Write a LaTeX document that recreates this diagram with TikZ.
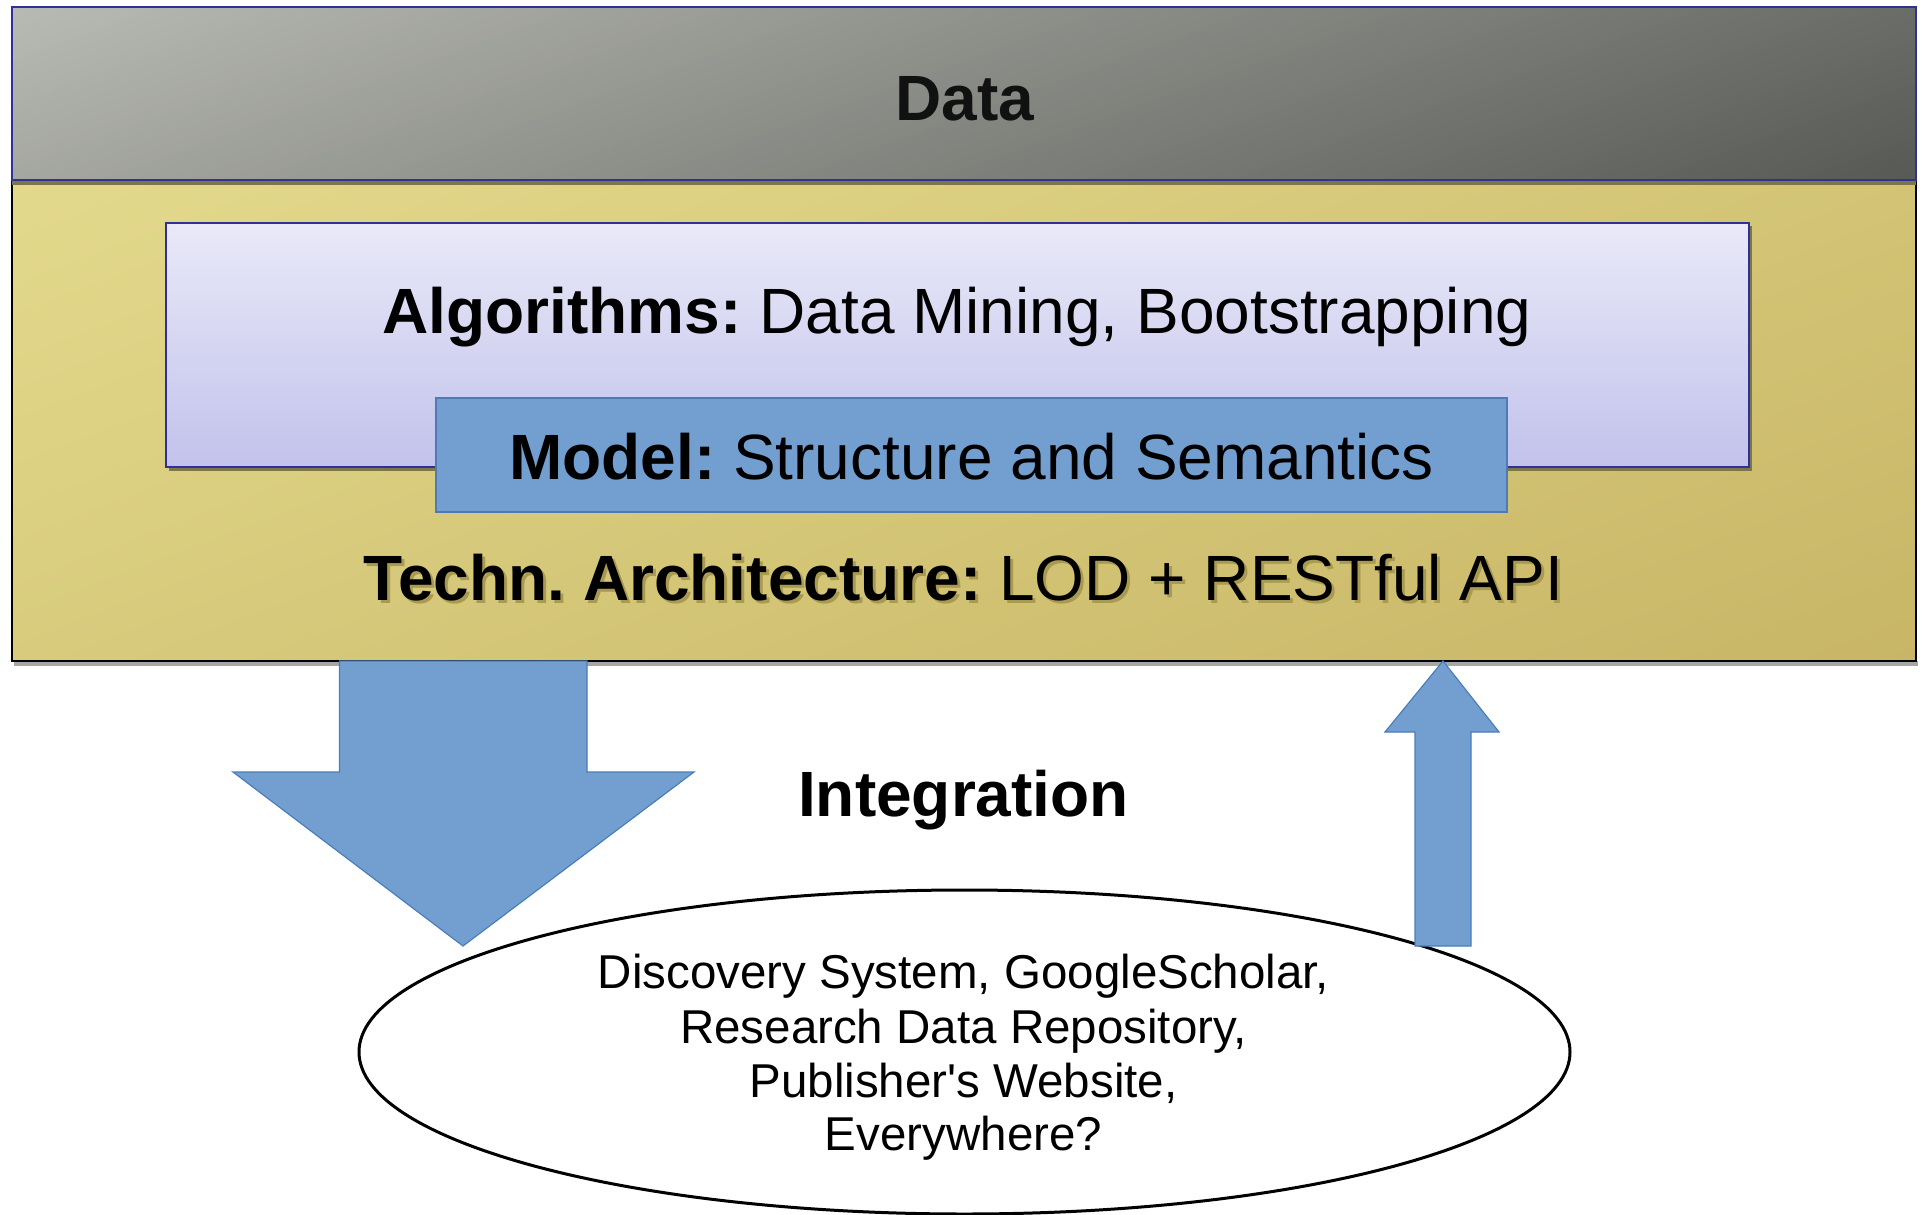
\documentclass[tikz,border=0pt]{standalone}
\usepackage{fontspec}
\setmainfont{Liberation Sans}
\usetikzlibrary{shapes.geometric}

\definecolor{datalight}{HTML}{B8BBB3}
\definecolor{datadark}{HTML}{575955}
\definecolor{yellowlight}{HTML}{E3D98C}
\definecolor{yellowdark}{HTML}{C8B666}
\definecolor{algotop}{HTML}{E9E9F8}
\definecolor{algobot}{HTML}{C2C2EC}
\definecolor{edgeblue}{HTML}{2F3196}
\definecolor{olivesh}{HTML}{7C7648}
\definecolor{modelblue}{HTML}{729FCF}
\definecolor{modeledge}{HTML}{4F7AB5}
\definecolor{arrowedge}{HTML}{4A7EBB}
\definecolor{textshadow}{HTML}{A99A52}
\definecolor{nearblack}{HTML}{111111}

\tikzset{
  bigfont/.style={font=\fontsize{64}{74}\selectfont},
  smallfont/.style={font=\fontsize{47.5}{54}\selectfont},
  boxnode/.style={rectangle, inner sep=0pt, outer sep=0pt},
  blockarrow/.style={fill=modelblue, draw=arrowedge, line width=1.2pt, line join=miter},
}

% Linear gradient over a box, built from strips.
% #1,#2 = upper-left corner, #3,#4 = lower-right corner,
% #5 = colour at upper left, #6 = colour at lower right,
% #7,#8 = horizontal and vertical weights of the gradient.
\newcommand\diaggrad[8]{%
  \begin{scope}
    \clip (#1,#2) rectangle (#3,#4);
    \foreach \i in {0,...,79}{%
      \pgfmathsetmacro\sa{ifthenelse(\i==0,-1,\i/80)}%
      \pgfmathsetmacro\sb{ifthenelse(\i==79,2,(\i+1.1)/80)}%
      \pgfmathsetmacro\pct{100-(\i+0.5)*1.25}%
      \pgfmathsetmacro\wd{#3-#1}%
      \pgfmathsetmacro\ht{#4-#2}%
      \pgfmathsetmacro\xat{#1+\wd*(\sa*(#7+#8)+#8*0.05)/#7}%
      \pgfmathsetmacro\xbt{#1+\wd*(\sb*(#7+#8)+#8*0.05)/#7}%
      \pgfmathsetmacro\xab{#1+\wd*(\sa*(#7+#8)-#8*1.05)/#7}%
      \pgfmathsetmacro\xbb{#1+\wd*(\sb*(#7+#8)-#8*1.05)/#7}%
      \pgfmathsetmacro\yt{#2-\ht*0.05}%
      \pgfmathsetmacro\yb{#2+\ht*1.05}%
      \fill[#5!\pct!#6] (\xat,\yt) -- (\xbt,\yt) -- (\xbb,\yb) -- (\xab,\yb) -- cycle;
    }
  \end{scope}}

\begin{document}
\frenchspacing
\begin{tikzpicture}[x=1pt,y=-1pt]
\useasboundingbox (0,0) rectangle (1922,1215);
\fill[white] (0,0) rectangle (1922,1215);

% gray shadow under the architecture layer
\fill[black!35] (14,661) rectangle (1918,666);

% architecture layer
\diaggrad{12}{180}{1916}{661}{yellowlight}{yellowdark}{0.6}{0.4}
\node[boxnode, draw=black, line width=2pt,
      minimum width=1904pt, minimum height=481pt] (arch) at (964,420.5) {};

% olive shadow under the data layer
\fill[olivesh] (12,180) rectangle (1916,185);

% data layer
\diaggrad{12}{7}{1916}{180}{datalight}{datadark}{0.8}{0.2}
\node[boxnode, draw=edgeblue, line width=2pt,
      minimum width=1904pt, minimum height=173pt] (data) at (964,93.5) {};
\node[font=\fontsize{64}{74}\selectfont\bfseries, text=nearblack, anchor=base]
      (datatxt) at (965,120) {Data};

% algorithms layer with its shadow
\fill[olivesh] (168.5,226) rectangle (1752,470.5);
\node[boxnode, top color=algotop, bottom color=algobot, draw=edgeblue, line width=2pt,
      minimum width=1583.5pt, minimum height=244pt] (algo) at (957.25,345) {};
\node[bigfont, anchor=base] (algotxt) at (957,333)
      {\textbf{Algorithms:} Data Mining, Bootstrapping};

% model layer
\node[boxnode, fill=modelblue, draw=modeledge, line width=1.5pt,
      minimum width=1071pt, minimum height=114pt] (model) at (971.5,455) {};
\node[bigfont, anchor=base] (modeltxt) at (971.5,479)
      {\textbf{Model:} Structure and Semantics};

% technical architecture label with its drop shadow
\node[bigfont, anchor=base, text=textshadow] (techsh) at (966.5,603)
      {\textbf{Techn. Architecture:} LOD + RESTful API};
\node[bigfont, anchor=base] (techtxt) at (963.5,600)
      {\textbf{Techn. Architecture:} LOD + RESTful API};

% integration targets
\node[ellipse, draw=black, fill=white, line width=3pt, inner sep=0pt,
      minimum width=1211pt, minimum height=324pt] (targets) at (964.5,1052) {};
\node[smallfont, anchor=base] (line1) at (963.5,988)
      {Discovery System, GoogleScholar,};
\node[smallfont, anchor=base] (line2) at (963.5,1043) {Research Data Repository,};
\node[smallfont, anchor=base] (line3) at (963.5,1097) {Publisher\textquotesingle s Website,};
\node[smallfont, anchor=base] (line4) at (963.5,1150) {Everywhere?};

% block arrows between the layers and the targets
\coordinate (downtop) at (463,661);
\coordinate (downtip) at (463,946);
\coordinate (uptip) at (1443,661);
\coordinate (upfoot) at (1443,946);
\draw[blockarrow]
  ([xshift=-123.5pt]downtop) -- ([xshift=124pt]downtop)
  -- ([xshift=124pt]downtop |- 0,772) -- ([xshift=231pt]downtop |- 0,772)
  -- (downtip)
  -- ([xshift=-230pt]downtop |- 0,772) -- ([xshift=-123.5pt]downtop |- 0,772) -- cycle;
\draw[blockarrow]
  (uptip) -- ([xshift=56pt]uptip |- 0,732) -- ([xshift=28pt]uptip |- 0,732)
  -- ([xshift=28pt]upfoot) -- ([xshift=-28pt]upfoot)
  -- ([xshift=-28pt]uptip |- 0,732) -- ([xshift=-58pt]uptip |- 0,732) -- cycle;

\node[font=\fontsize{64}{74}\selectfont\bfseries, anchor=base] (integ) at (963.5,816) {Integration};
\end{tikzpicture}
\end{document}
